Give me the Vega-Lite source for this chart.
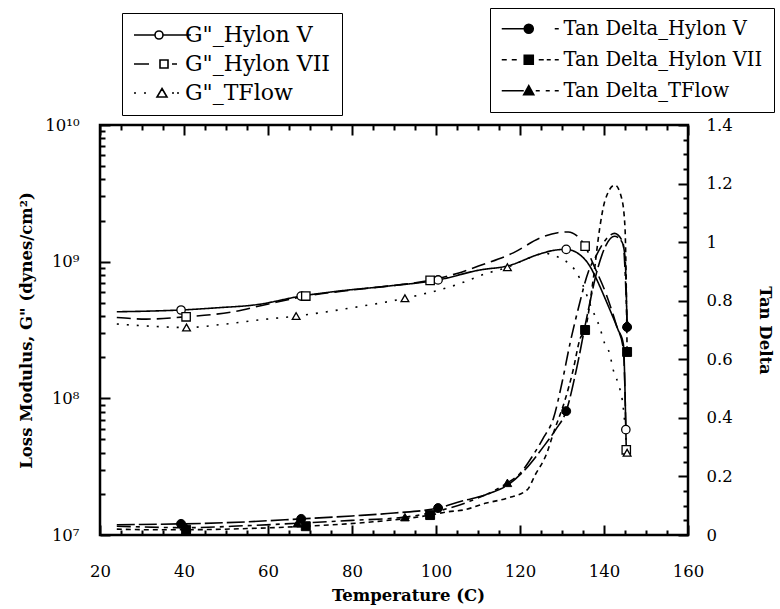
{
  "$schema": "https://vega.github.io/schema/vega-lite/v6.json",
  "autosize": {"type": "none"},
  "width": 588,
  "height": 410,
  "padding": {"left": 100, "top": 125, "right": 92, "bottom": 74},
  "background": "white",
  "config": {
    "view": {"stroke": "black", "strokeWidth": 2.5},
    "font": "DejaVu Serif",
    "axis": {
      "domain": false, "grid": false, "tickColor": "black", "tickWidth": 2,
      "labelFont": "DejaVu Serif", "labelFontSize": 16.5, "labelColor": "black",
      "labelOverlap": false, "labelFlush": false,
      "titleFont": "DejaVu Serif", "titleFontSize": 16.5, "titleFontWeight": "bold", "titleColor": "black"
    }
  },
  "datasets": {
    "gLines": [
      {"s": "G\"_Hylon V", "T": 24, "G": 4.3e8},
      {"s": "G\"_Hylon V", "T": 32, "G": 4.35e8},
      {"s": "G\"_Hylon V", "T": 39.3, "G": 4.43e8},
      {"s": "G\"_Hylon V", "T": 48, "G": 4.6e8},
      {"s": "G\"_Hylon V", "T": 57.4, "G": 4.85e8},
      {"s": "G\"_Hylon V", "T": 67.9, "G": 5.6e8},
      {"s": "G\"_Hylon V", "T": 77, "G": 6.1e8},
      {"s": "G\"_Hylon V", "T": 88, "G": 6.6e8},
      {"s": "G\"_Hylon V", "T": 100.5, "G": 7.35e8},
      {"s": "G\"_Hylon V", "T": 110.5, "G": 8.7e8},
      {"s": "G\"_Hylon V", "T": 117, "G": 9.3e8},
      {"s": "G\"_Hylon V", "T": 124.8, "G": 1.14e9},
      {"s": "G\"_Hylon V", "T": 128, "G": 1.21e9},
      {"s": "G\"_Hylon V", "T": 131, "G": 1.23e9},
      {"s": "G\"_Hylon V", "T": 134.3, "G": 1.12e9},
      {"s": "G\"_Hylon V", "T": 136.7, "G": 9.2e8},
      {"s": "G\"_Hylon V", "T": 138, "G": 7.7e8},
      {"s": "G\"_Hylon V", "T": 140.7, "G": 5.0e8},
      {"s": "G\"_Hylon V", "T": 143.3, "G": 3.2e8},
      {"s": "G\"_Hylon V", "T": 144.6, "G": 2.5e8},
      {"s": "G\"_Hylon V", "T": 145.2, "G": 5.9e7},
      {"s": "G\"_Hylon VII", "T": 24, "G": 3.9e8},
      {"s": "G\"_Hylon VII", "T": 31, "G": 3.8e8},
      {"s": "G\"_Hylon VII", "T": 40.5, "G": 3.95e8},
      {"s": "G\"_Hylon VII", "T": 51.7, "G": 4.3e8},
      {"s": "G\"_Hylon VII", "T": 58.8, "G": 4.8e8},
      {"s": "G\"_Hylon VII", "T": 69, "G": 5.6e8},
      {"s": "G\"_Hylon VII", "T": 80, "G": 6.2e8},
      {"s": "G\"_Hylon VII", "T": 90, "G": 6.7e8},
      {"s": "G\"_Hylon VII", "T": 98.6, "G": 7.3e8},
      {"s": "G\"_Hylon VII", "T": 105, "G": 8.2e8},
      {"s": "G\"_Hylon VII", "T": 111, "G": 9.5e8},
      {"s": "G\"_Hylon VII", "T": 118.4, "G": 1.16e9},
      {"s": "G\"_Hylon VII", "T": 124.8, "G": 1.49e9},
      {"s": "G\"_Hylon VII", "T": 129, "G": 1.63e9},
      {"s": "G\"_Hylon VII", "T": 131.5, "G": 1.65e9},
      {"s": "G\"_Hylon VII", "T": 133.5, "G": 1.55e9},
      {"s": "G\"_Hylon VII", "T": 135.5, "G": 1.3e9},
      {"s": "G\"_Hylon VII", "T": 137.5, "G": 9.5e8},
      {"s": "G\"_Hylon VII", "T": 140.5, "G": 5.8e8},
      {"s": "G\"_Hylon VII", "T": 143, "G": 3.4e8},
      {"s": "G\"_Hylon VII", "T": 144.6, "G": 2.3e8},
      {"s": "G\"_Hylon VII", "T": 145.3, "G": 4.2e7},
      {"s": "G\"_TFlow", "T": 24, "G": 3.5e8},
      {"s": "G\"_TFlow", "T": 30, "G": 3.4e8},
      {"s": "G\"_TFlow", "T": 40.6, "G": 3.3e8},
      {"s": "G\"_TFlow", "T": 50, "G": 3.5e8},
      {"s": "G\"_TFlow", "T": 58, "G": 3.75e8},
      {"s": "G\"_TFlow", "T": 66.7, "G": 4.0e8},
      {"s": "G\"_TFlow", "T": 80, "G": 4.6e8},
      {"s": "G\"_TFlow", "T": 92.6, "G": 5.4e8},
      {"s": "G\"_TFlow", "T": 105, "G": 6.8e8},
      {"s": "G\"_TFlow", "T": 112, "G": 8.2e8},
      {"s": "G\"_TFlow", "T": 117, "G": 9.1e8},
      {"s": "G\"_TFlow", "T": 122, "G": 1.06e9},
      {"s": "G\"_TFlow", "T": 126, "G": 1.15e9},
      {"s": "G\"_TFlow", "T": 128.5, "G": 1.1e9},
      {"s": "G\"_TFlow", "T": 130.7, "G": 1.02e9},
      {"s": "G\"_TFlow", "T": 133.5, "G": 8.3e8},
      {"s": "G\"_TFlow", "T": 135, "G": 6.7e8},
      {"s": "G\"_TFlow", "T": 137, "G": 4.6e8},
      {"s": "G\"_TFlow", "T": 139, "G": 3.3e8},
      {"s": "G\"_TFlow", "T": 140.2, "G": 2.5e8},
      {"s": "G\"_TFlow", "T": 141.4, "G": 2.1e8},
      {"s": "G\"_TFlow", "T": 142.1, "G": 1.66e8},
      {"s": "G\"_TFlow", "T": 143.3, "G": 1.3e8},
      {"s": "G\"_TFlow", "T": 144.5, "G": 9e7},
      {"s": "G\"_TFlow", "T": 145.5, "G": 4.0e7}
    ],
    "gPts": [
      {"s": "G\"_Hylon V", "T": 39.3, "G": 4.43e8},
      {"s": "G\"_Hylon V", "T": 67.9, "G": 5.6e8},
      {"s": "G\"_Hylon V", "T": 100.5, "G": 7.35e8},
      {"s": "G\"_Hylon V", "T": 131, "G": 1.23e9},
      {"s": "G\"_Hylon V", "T": 145.2, "G": 5.9e7},
      {"s": "G\"_Hylon VII", "T": 40.5, "G": 3.95e8},
      {"s": "G\"_Hylon VII", "T": 69, "G": 5.6e8},
      {"s": "G\"_Hylon VII", "T": 98.6, "G": 7.3e8},
      {"s": "G\"_Hylon VII", "T": 135.5, "G": 1.3e9},
      {"s": "G\"_Hylon VII", "T": 145.3, "G": 4.2e7},
      {"s": "G\"_TFlow", "T": 40.6, "G": 3.3e8},
      {"s": "G\"_TFlow", "T": 66.7, "G": 4.0e8},
      {"s": "G\"_TFlow", "T": 92.6, "G": 5.4e8},
      {"s": "G\"_TFlow", "T": 117, "G": 9.1e8},
      {"s": "G\"_TFlow", "T": 145.5, "G": 4.0e7}
    ],
    "tLines": [
      {"s": "Tan Delta_Hylon V", "T": 24, "tan": 0.035},
      {"s": "Tan Delta_Hylon V", "T": 39.3, "tan": 0.038},
      {"s": "Tan Delta_Hylon V", "T": 50, "tan": 0.042},
      {"s": "Tan Delta_Hylon V", "T": 67.9, "tan": 0.055},
      {"s": "Tan Delta_Hylon V", "T": 80, "tan": 0.065},
      {"s": "Tan Delta_Hylon V", "T": 90, "tan": 0.075},
      {"s": "Tan Delta_Hylon V", "T": 100.5, "tan": 0.092},
      {"s": "Tan Delta_Hylon V", "T": 106, "tan": 0.115},
      {"s": "Tan Delta_Hylon V", "T": 113, "tan": 0.143},
      {"s": "Tan Delta_Hylon V", "T": 117, "tan": 0.17},
      {"s": "Tan Delta_Hylon V", "T": 121, "tan": 0.22},
      {"s": "Tan Delta_Hylon V", "T": 125.5, "tan": 0.30},
      {"s": "Tan Delta_Hylon V", "T": 128.5, "tan": 0.36},
      {"s": "Tan Delta_Hylon V", "T": 131, "tan": 0.423},
      {"s": "Tan Delta_Hylon V", "T": 133.5, "tan": 0.57},
      {"s": "Tan Delta_Hylon V", "T": 136, "tan": 0.75},
      {"s": "Tan Delta_Hylon V", "T": 138.5, "tan": 0.91},
      {"s": "Tan Delta_Hylon V", "T": 140.5, "tan": 0.99},
      {"s": "Tan Delta_Hylon V", "T": 142.5, "tan": 1.02},
      {"s": "Tan Delta_Hylon V", "T": 144.3, "tan": 1.0},
      {"s": "Tan Delta_Hylon V", "T": 145, "tan": 0.95},
      {"s": "Tan Delta_Hylon V", "T": 145.5, "tan": 0.71},
      {"s": "Tan Delta_Hylon VII", "T": 24, "tan": 0.02},
      {"s": "Tan Delta_Hylon VII", "T": 32, "tan": 0.018},
      {"s": "Tan Delta_Hylon VII", "T": 40.5, "tan": 0.018},
      {"s": "Tan Delta_Hylon VII", "T": 55, "tan": 0.022},
      {"s": "Tan Delta_Hylon VII", "T": 69, "tan": 0.03},
      {"s": "Tan Delta_Hylon VII", "T": 85, "tan": 0.045},
      {"s": "Tan Delta_Hylon VII", "T": 98.6, "tan": 0.068},
      {"s": "Tan Delta_Hylon VII", "T": 102.6, "tan": 0.079},
      {"s": "Tan Delta_Hylon VII", "T": 106.4, "tan": 0.085},
      {"s": "Tan Delta_Hylon VII", "T": 112, "tan": 0.109},
      {"s": "Tan Delta_Hylon VII", "T": 117, "tan": 0.126},
      {"s": "Tan Delta_Hylon VII", "T": 121.7, "tan": 0.154},
      {"s": "Tan Delta_Hylon VII", "T": 123.6, "tan": 0.205},
      {"s": "Tan Delta_Hylon VII", "T": 126.4, "tan": 0.28},
      {"s": "Tan Delta_Hylon VII", "T": 128, "tan": 0.35},
      {"s": "Tan Delta_Hylon VII", "T": 130.7, "tan": 0.46},
      {"s": "Tan Delta_Hylon VII", "T": 132.6, "tan": 0.56},
      {"s": "Tan Delta_Hylon VII", "T": 134.3, "tan": 0.67},
      {"s": "Tan Delta_Hylon VII", "T": 135.5, "tan": 0.70},
      {"s": "Tan Delta_Hylon VII", "T": 137.5, "tan": 0.88},
      {"s": "Tan Delta_Hylon VII", "T": 139, "tan": 1.05},
      {"s": "Tan Delta_Hylon VII", "T": 140.2, "tan": 1.14},
      {"s": "Tan Delta_Hylon VII", "T": 142.6, "tan": 1.195},
      {"s": "Tan Delta_Hylon VII", "T": 144.2, "tan": 1.15},
      {"s": "Tan Delta_Hylon VII", "T": 145, "tan": 1.05},
      {"s": "Tan Delta_Hylon VII", "T": 145.3, "tan": 0.85},
      {"s": "Tan Delta_Hylon VII", "T": 145.5, "tan": 0.625},
      {"s": "Tan Delta_TFlow", "T": 24, "tan": 0.03},
      {"s": "Tan Delta_TFlow", "T": 40.6, "tan": 0.025},
      {"s": "Tan Delta_TFlow", "T": 55, "tan": 0.032},
      {"s": "Tan Delta_TFlow", "T": 67, "tan": 0.04},
      {"s": "Tan Delta_TFlow", "T": 80, "tan": 0.05},
      {"s": "Tan Delta_TFlow", "T": 92.6, "tan": 0.061},
      {"s": "Tan Delta_TFlow", "T": 100, "tan": 0.08},
      {"s": "Tan Delta_TFlow", "T": 108, "tan": 0.115},
      {"s": "Tan Delta_TFlow", "T": 117, "tan": 0.178},
      {"s": "Tan Delta_TFlow", "T": 120, "tan": 0.21},
      {"s": "Tan Delta_TFlow", "T": 123, "tan": 0.27},
      {"s": "Tan Delta_TFlow", "T": 125.5, "tan": 0.33},
      {"s": "Tan Delta_TFlow", "T": 128, "tan": 0.40},
      {"s": "Tan Delta_TFlow", "T": 130, "tan": 0.52},
      {"s": "Tan Delta_TFlow", "T": 132, "tan": 0.66},
      {"s": "Tan Delta_TFlow", "T": 134, "tan": 0.78},
      {"s": "Tan Delta_TFlow", "T": 136.3, "tan": 0.9},
      {"s": "Tan Delta_TFlow", "T": 138, "tan": 0.95},
      {"s": "Tan Delta_TFlow", "T": 140.5, "tan": 1.01},
      {"s": "Tan Delta_TFlow", "T": 142.5, "tan": 1.03},
      {"s": "Tan Delta_TFlow", "T": 144.5, "tan": 1.0},
      {"s": "Tan Delta_TFlow", "T": 145.5, "tan": 0.72}
    ],
    "tPts": [
      {"s": "Tan Delta_Hylon V", "T": 39.3, "tan": 0.038},
      {"s": "Tan Delta_Hylon V", "T": 67.9, "tan": 0.055},
      {"s": "Tan Delta_Hylon V", "T": 100.5, "tan": 0.092},
      {"s": "Tan Delta_Hylon V", "T": 131, "tan": 0.423},
      {"s": "Tan Delta_Hylon V", "T": 145.5, "tan": 0.71},
      {"s": "Tan Delta_Hylon VII", "T": 40.5, "tan": 0.018},
      {"s": "Tan Delta_Hylon VII", "T": 69, "tan": 0.03},
      {"s": "Tan Delta_Hylon VII", "T": 98.6, "tan": 0.068},
      {"s": "Tan Delta_Hylon VII", "T": 135.5, "tan": 0.70},
      {"s": "Tan Delta_Hylon VII", "T": 145.5, "tan": 0.625},
      {"s": "Tan Delta_TFlow", "T": 40.6, "tan": 0.025},
      {"s": "Tan Delta_TFlow", "T": 67, "tan": 0.04},
      {"s": "Tan Delta_TFlow", "T": 92.6, "tan": 0.061},
      {"s": "Tan Delta_TFlow", "T": 117, "tan": 0.178},
      {"s": "Tan Delta_TFlow", "T": 145.5, "tan": 0.72}
    ]
  },
  "layer": [
    {
      "layer": [
        {
          "data": {"name": "gLines"},
          "mark": {"type": "line", "interpolate": "monotone", "strokeWidth": 1.6, "color": "black", "clip": true},
          "encoding": {
            "x": {"field": "T", "type": "quantitative", "scale": {"domain": [20, 160], "nice": false},
              "axis": {"orient": "bottom", "values": [20, 40, 60, 80, 100, 120, 140, 160], "tickSize": -10, "labelPadding": 38,
                "title": "Temperature (C)", "titlePadding": 8, "titleX": 308}},
            "y": {"field": "G", "type": "quantitative", "scale": {"type": "log", "domain": [1e7, 1e10], "nice": false},
              "axis": {"orient": "left", "values": [1e7, 1e8, 1e9, 1e10], "tickSize": -10, "labelPadding": 31,
                "labelExpr": "datum.value < 5e7 ? '10⁷' : datum.value < 5e8 ? '10⁸' : datum.value < 5e9 ? '10⁹' : '10¹⁰'",
                "title": "Loss Modulus, G\" (dynes/cm²)", "titlePadding": 10}},
            "strokeDash": {"field": "s", "type": "nominal",
              "scale": {"domain": ["G\"_TFlow", "G\"_Hylon V", "G\"_Hylon VII"], "range": [[2, 8], [1, 0], [14, 6]]},
              "legend": null}
          }
        },
        {
          "data": {"name": "gPts"},
          "transform": [{"filter": {"field": "s", "equal": "G\"_Hylon V"}}],
          "mark": {"type": "point", "shape": "circle", "filled": true, "fill": "white", "stroke": "black", "strokeWidth": 1.3, "size": 70, "opacity": 1},
          "encoding": {
            "x": {"field": "T", "type": "quantitative", "scale": {"domain": [20, 160], "nice": false},
              "axis": {"orient": "bottom", "values": [25, 30, 35, 45, 50, 55, 65, 70, 75, 85, 90, 95, 105, 110, 115, 125, 130, 135, 145, 150, 155], "tickSize": -5, "labels": false, "title": null}},
            "y": {"field": "G", "type": "quantitative", "scale": {"type": "log", "domain": [1e7, 1e10], "nice": false},
              "axis": {"orient": "left", "values": [2e7, 3e7, 4e7, 5e7, 6e7, 7e7, 8e7, 9e7, 2e8, 3e8, 4e8, 5e8, 6e8, 7e8, 8e8, 9e8, 2e9, 3e9, 4e9, 5e9, 6e9, 7e9, 8e9, 9e9], "tickSize": -5, "labels": false, "title": null}}
          }
        },
        {
          "data": {"name": "gPts"},
          "transform": [{"filter": {"field": "s", "equal": "G\"_Hylon VII"}}],
          "mark": {"type": "point", "shape": "square", "filled": true, "fill": "white", "stroke": "black", "strokeWidth": 1.3, "size": 70, "opacity": 1},
          "encoding": {
            "x": {"field": "T", "type": "quantitative", "scale": {"domain": [20, 160], "nice": false}, "axis": null},
            "y": {"field": "G", "type": "quantitative", "scale": {"type": "log", "domain": [1e7, 1e10], "nice": false}, "axis": null}
          }
        },
        {
          "data": {"name": "gPts"},
          "transform": [{"filter": {"field": "s", "equal": "G\"_TFlow"}}],
          "mark": {"type": "point", "shape": "triangle-up", "filled": true, "fill": "white", "stroke": "black", "strokeWidth": 1.3, "size": 60, "opacity": 1},
          "encoding": {
            "x": {"field": "T", "type": "quantitative", "scale": {"domain": [20, 160], "nice": false}, "axis": null},
            "y": {"field": "G", "type": "quantitative", "scale": {"type": "log", "domain": [1e7, 1e10], "nice": false}, "axis": null}
          }
        },
        {
          "data": {"name": "gPts"},
          "mark": {"type": "point", "filled": true, "fill": "white", "stroke": "black", "strokeWidth": 1.6, "size": 0, "opacity": 1},
          "encoding": {
            "x": {"field": "T", "type": "quantitative", "scale": {"domain": [20, 160], "nice": false}, "axis": null},
            "y": {"field": "G", "type": "quantitative", "scale": {"type": "log", "domain": [1e7, 1e10], "nice": false}, "axis": null},
            "shape": {"field": "s", "type": "nominal",
              "scale": {"domain": ["G\"_Hylon V", "G\"_Hylon VII", "G\"_TFlow"],
                "range": ["M-10,0H11 M19,0H47 M19,0A4,4 0 1,1 11,0A4,4 0 1,1 19,0Z", "M-10,0H5 M16,-4H24V4H16Z M28,0H33", "M-10,0H-8 M0,0H2 M18,-4.5L23,4L13,4Z M28,0H30 M33,0H35"]},
              "legend": {
                "orient": "none", "legendX": 22, "legendY": -112, "title": null,
                "padding": 11, "strokeColor": "black", "fillColor": "white",
                "labelFont": "DejaVu Serif", "labelFontSize": 22, "labelColor": "black",
                "symbolSize": 4, "symbolStrokeWidth": 1.6, "symbolOpacity": 1,
                "labelOffset": 30, "rowPadding": 7, "labelLimit": 400
              }
            }
          }
        }
      ],
      "resolve": {"axis": {"x": "independent", "y": "independent"}}
    },
    {
      "layer": [
        {
          "data": {"name": "tLines"},
          "mark": {"type": "line", "interpolate": "monotone", "strokeWidth": 1.6, "color": "black", "clip": true},
          "encoding": {
            "x": {"field": "T", "type": "quantitative", "scale": {"domain": [20, 160], "nice": false},
              "axis": {"orient": "top", "values": [20, 40, 60, 80, 100, 120, 140, 160], "tickSize": -10, "labels": false, "title": null}},
            "y": {"field": "tan", "type": "quantitative", "scale": {"domain": [0, 1.4], "nice": false, "zero": false},
              "axis": {"orient": "right", "values": [0, 0.2, 0.4, 0.6, 0.8, 1, 1.2, 1.4], "tickSize": -10, "labelPadding": 28,
                "labelExpr": "'' + datum.value", "title": "Tan Delta", "titlePadding": 24}},
            "strokeDash": {"field": "s", "type": "nominal",
              "scale": {"domain": ["Tan Delta_TFlow", "Tan Delta_Hylon V", "Tan Delta_Hylon VII"], "range": [[14, 5, 4, 5], [18, 4], [5, 4]]},
              "legend": null}
          }
        },
        {
          "data": {"name": "tPts"},
          "transform": [{"filter": {"field": "s", "equal": "Tan Delta_Hylon V"}}],
          "mark": {"type": "point", "shape": "circle", "filled": true, "fill": "black", "stroke": "black", "strokeWidth": 1, "size": 80, "opacity": 1},
          "encoding": {
            "x": {"field": "T", "type": "quantitative", "scale": {"domain": [20, 160], "nice": false},
              "axis": {"orient": "top", "values": [25, 30, 35, 45, 50, 55, 65, 70, 75, 85, 90, 95, 105, 110, 115, 125, 130, 135, 145, 150, 155], "tickSize": -5, "labels": false, "title": null}},
            "y": {"field": "tan", "type": "quantitative", "scale": {"domain": [0, 1.4], "nice": false, "zero": false},
              "axis": {"orient": "right", "values": [0.05, 0.1, 0.15, 0.25, 0.3, 0.35, 0.45, 0.5, 0.55, 0.65, 0.7, 0.75, 0.85, 0.9, 0.95, 1.05, 1.1, 1.15, 1.25, 1.3, 1.35], "tickSize": -5, "labels": false, "title": null}}
          }
        },
        {
          "data": {"name": "tPts"},
          "transform": [{"filter": {"field": "s", "equal": "Tan Delta_Hylon VII"}}],
          "mark": {"type": "point", "shape": "square", "filled": true, "fill": "black", "stroke": "black", "strokeWidth": 1, "size": 80, "opacity": 1},
          "encoding": {
            "x": {"field": "T", "type": "quantitative", "scale": {"domain": [20, 160], "nice": false}, "axis": null},
            "y": {"field": "tan", "type": "quantitative", "scale": {"domain": [0, 1.4], "nice": false, "zero": false}, "axis": null}
          }
        },
        {
          "data": {"name": "tPts"},
          "transform": [{"filter": {"field": "s", "equal": "Tan Delta_TFlow"}}],
          "mark": {"type": "point", "shape": "triangle-up", "filled": true, "fill": "black", "stroke": "black", "strokeWidth": 1, "size": 75, "opacity": 1},
          "encoding": {
            "x": {"field": "T", "type": "quantitative", "scale": {"domain": [20, 160], "nice": false}, "axis": null},
            "y": {"field": "tan", "type": "quantitative", "scale": {"domain": [0, 1.4], "nice": false, "zero": false}, "axis": null}
          }
        },
        {
          "data": {"name": "tPts"},
          "mark": {"type": "point", "filled": true, "fill": "black", "stroke": "black", "strokeWidth": 1.6, "size": 0, "opacity": 1},
          "encoding": {
            "x": {"field": "T", "type": "quantitative", "scale": {"domain": [20, 160], "nice": false}, "axis": null},
            "y": {"field": "tan", "type": "quantitative", "scale": {"domain": [0, 1.4], "nice": false, "zero": false}, "axis": null},
            "shape": {"field": "s", "type": "nominal",
              "scale": {"domain": ["Tan Delta_Hylon V", "Tan Delta_Hylon VII", "Tan Delta_TFlow"],
                "range": ["M-9,0H13 M22.5,0A4.5,4.5 0 1,1 13.5,0A4.5,4.5 0 1,1 22.5,0Z M44,0H48", "M-9,0H-4 M1,0H6 M13.5,-4.5H22.5V4.5H13.5Z M28,0H33 M36,0H40 M44,0H48", "M-9,0H13 M18,-5L23,4L13,4Z M25,0H29 M35,0H39 M44,0H48"]},
              "legend": {
                "orient": "none", "legendX": 390, "legendY": -117, "title": null,
                "padding": 11, "strokeColor": "black", "fillColor": "white",
                "labelFont": "DejaVu Serif", "labelFontSize": 19.5, "labelColor": "black",
                "symbolSize": 4, "symbolStrokeWidth": 1.6, "symbolOpacity": 1,
                "labelOffset": 43, "rowPadding": 10, "labelLimit": 400
              }
            }
          }
        }
      ],
      "resolve": {"axis": {"x": "independent", "y": "independent"}}
    }
  ],
  "resolve": {
    "scale": {"y": "independent", "strokeDash": "independent", "shape": "independent"},
    "axis": {"x": "independent", "y": "independent"},
    "legend": {"shape": "independent"}
  }
}
